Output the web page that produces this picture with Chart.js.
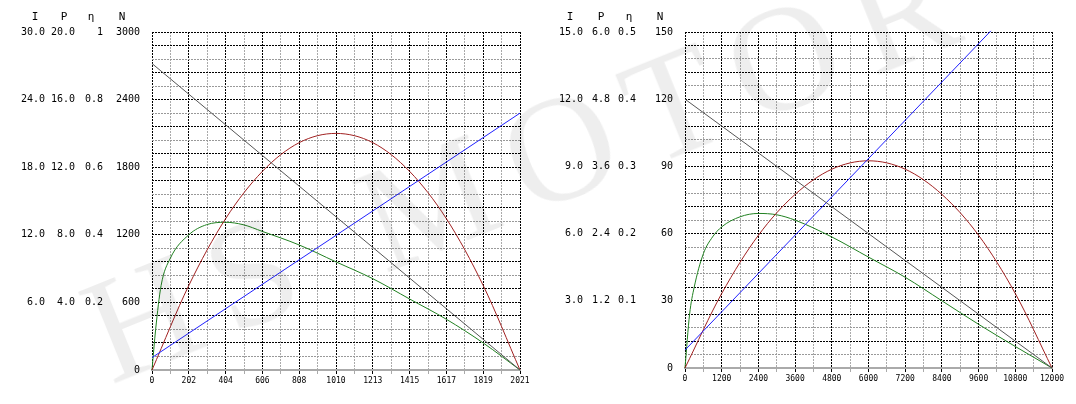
<!DOCTYPE html>
<html><head><meta charset="utf-8">
<script src="https://cdn.jsdelivr.net/npm/chart.js@4"></script>
<style>
body{margin:0;background:#fff;width:1076px;height:404px;overflow:hidden;position:relative}
.c{position:absolute;top:0;height:404px}
#wm{position:absolute;left:118px;top:262px;height:140px;line-height:140px;font-family:"Liberation Serif",serif;font-size:150px;color:rgba(0,0,0,0.065);transform:rotate(-22deg);transform-origin:left bottom;white-space:nowrap;letter-spacing:22px;pointer-events:none}
</style></head><body>
<div class="c" style="left:0;width:540px"><canvas id="a" width="540" height="404"></canvas></div>
<div class="c" style="left:540px;width:536px"><canvas id="b" width="536" height="404"></canvas></div>
<div id="wm">HS MOTOR</div>
<script>
// Left chart data
const L_xLabels=['0','202','404','606','808','1010','1213','1415','1617','1819','2021'];
const L_T=[0,20,50,100,202,300,404,500,606,808,1010,1213,1415,1617,1819,2021];
const L_eta=[0,0.12,0.25,0.33,0.40,0.43,0.437,0.43,0.41,0.37,0.32,0.27,0.21,0.15,0.08,0];
const L_PT=[0,202,404,606,808,1010,1213,1415,1617,1819,2021];
const L_P=[0,5.0,8.95,11.75,13.45,14.0,13.45,11.75,8.95,5.0,0];
const L_N=[[0,2720],[2021,0]];
const L_I=[[0,1.1],[2021,22.8]];
const L_Iticks=['30.0','24.0','18.0','12.0','6.0'];
const L_Pticks=['20.0','16.0','12.0','8.0','4.0'];
const L_Eticks=['1','0.8','0.6','0.4','0.2'];
// Right chart data
const R_xLabels=['0','1200','2400','3600','4800','6000','7200','8400','9600','10800','12000'];
const R_T=[0,150,300,600,900,1200,1800,2400,3000,3600,4800,6000,7200,8400,9600,10800,12000];
const R_eta=[0,0.08,0.12,0.17,0.195,0.21,0.225,0.23,0.228,0.22,0.195,0.165,0.135,0.10,0.065,0.032,0];
const R_PT=[0,1200,2400,3600,4800,6000,7200,8400,9600,10800,12000];
const R_P=[0,1.33,2.37,3.1,3.55,3.7,3.55,3.1,2.37,1.33,0];
const R_N=[[0,120],[12000,0]];
const R_I=[[0,0.8],[10000,15.05]];
const R_Iticks=['15.0','12.0','9.0','6.0','3.0'];
const R_Pticks=['6.0','4.8','3.6','2.4','1.2'];
const R_Eticks=['0.5','0.4','0.3','0.2','0.1'];

const FF='"DejaVu Sans Mono","Liberation Mono",monospace';
const FONT={family:FF,size:10};
const pts=(xs,ys)=>xs.map((x,i)=>({x,y:ys[i]}));
const pp=a=>a.map(p=>({x:p[0],y:p[1]}));

function make(id,o){
  const xmax=o.xmax;
  const side={id:'side',afterDraw(c){const g=c.ctx,s=c.scales.yN;g.save();g.fillStyle='#000';
    g.font='11px '+FF;g.textAlign='center';g.textBaseline='alphabetic';
    ['I','P','η','N'].forEach((t,i)=>g.fillText(t,o.hx[i],20));
    g.font='10px '+FF;g.textAlign='right';g.textBaseline='middle';
    [o.It,o.Pt,o.Et].forEach((arr,k)=>arr.forEach((t,i)=>{g.fillText(t,o.cx[k],s.getPixelForValue(o.Nmax*(5-i)/5));}));
    g.restore();}};
  const yax=(max,id)=>({position:'left',display:false,min:0,max});
  new Chart(document.getElementById(id),{type:'line',
    data:{datasets:[
      {data:pp(o.N),yAxisID:'yN',borderColor:'#555'},
      {data:pp(o.I),yAxisID:'yI',borderColor:'#2020ff'},
      {data:pts(o.PT,o.P),yAxisID:'yP',borderColor:'#a02020',cubicInterpolationMode:'monotone'},
      {data:pts(o.T,o.eta),yAxisID:'yE',borderColor:'#208020',cubicInterpolationMode:'monotone'}
    ].map(d=>Object.assign({borderWidth:1,pointRadius:0,fill:false,clip:false},d))},
    options:{responsive:false,animation:false,events:[],
      layout:{padding:{top:32,right:o.rp,left:0,bottom:0}},
      plugins:{legend:{display:false},tooltip:{enabled:false}},
      scales:{
        x:{type:'linear',min:0,max:xmax,
          afterBuildTicks(s){s.ticks=Array.from({length:21},(_,i)=>({value:i*xmax/20}));},
          afterFit(s){s.height=o.bh;},
          grid:{color:c=>c.index%2?'#aaa':'#000',tickLength:4,lineWidth:1},
          border:{dash:[2,1],color:'#aaa',width:2},
          ticks:{font:{family:FF,size:8},color:'#000',maxRotation:0,autoSkip:false,padding:2,
            callback:(v,i)=>i%2?'':o.xl[i/2]}},
        yI:yax(o.Imax),yP:yax(o.Pmax),yE:yax(o.Emax),
        yN:{position:'left',min:0,max:o.Nmax,afterFit(s){s.width=o.w;},
          afterBuildTicks(s){s.ticks=Array.from({length:26},(_,i)=>({value:i*o.Nmax/25}));},
          grid:{color:c=>c.index%5===0?'#000':(c.index%2?'#999':'#000'),tickLength:0},
          border:{dash:[2,1],display:false},
          ticks:{font:FONT,color:'#000',padding:12,autoSkip:false,callback:(v,i)=>i%5?'':String(Math.round(v))}}
      }},plugins:[side]});
}
make('a',{xmax:2021,xl:L_xLabels,T:L_T,eta:L_eta,PT:L_PT,P:L_P,N:L_N,I:L_I,Imax:30,Pmax:20,Emax:1,Nmax:3000,
  It:L_Iticks,Pt:L_Pticks,Et:L_Eticks,cx:[45,75,103],hx:[35,64,91,122],w:152,rp:20,bh:34});
make('b',{xmax:12000,xl:R_xLabels,T:R_T,eta:R_eta,PT:R_PT,P:R_P,N:R_N,I:R_I,Imax:15,Pmax:6,Emax:0.5,Nmax:150,
  It:R_Iticks,Pt:R_Pticks,Et:R_Eticks,cx:[43,70,96],hx:[30,61,89,120],w:145,rp:24,bh:36});
</script></body></html>
